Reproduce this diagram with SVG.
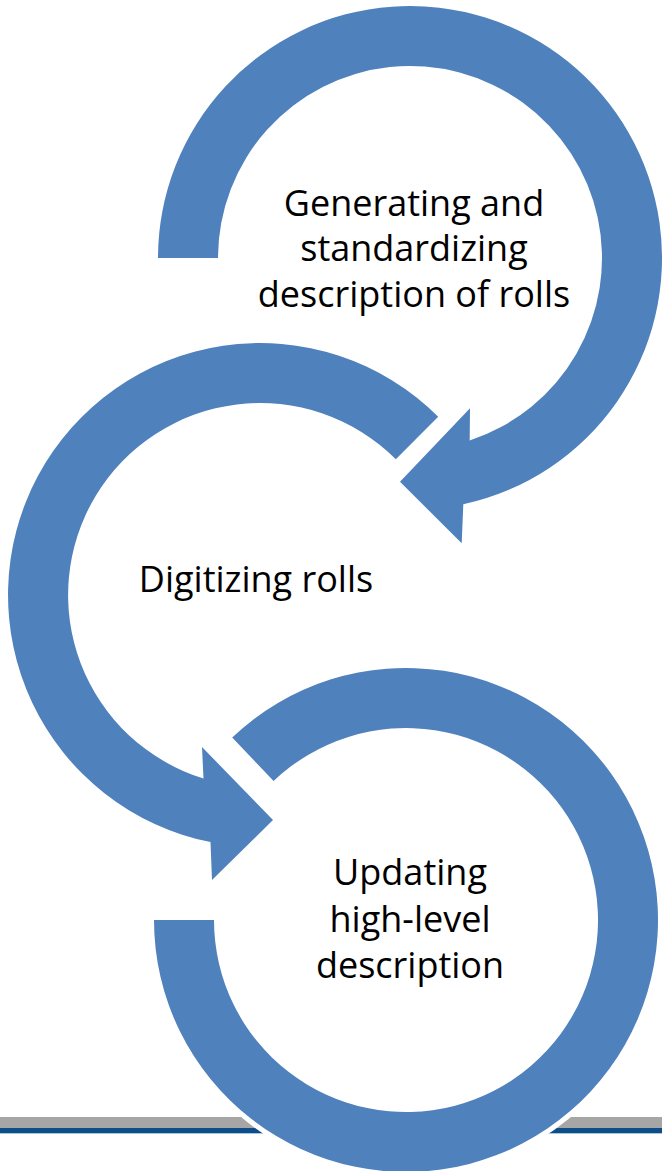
<svg xmlns="http://www.w3.org/2000/svg" width="662" height="1171" viewBox="0 0 662 1171">
  <style>
    .arrow { fill: #4F81BD; stroke: #FFFFFF; stroke-width: 10; paint-order: stroke; stroke-linejoin: miter; }
    .label { font-family: "Open Sans", "Noto Sans", sans-serif; font-size: 36px; fill: #000000; text-anchor: middle; }
  </style>
  <rect x="0" y="0" width="662" height="1171" fill="#FFFFFF"/>
  <g id="footer-lines">
    <rect x="0" y="1117" width="662" height="11" fill="#A6A6A6"/>
    <rect x="0" y="1128" width="662" height="5" fill="#0F4D88"/>
    <rect x="0" y="1133" width="662" height="1" fill="#A9C6E0"/>
  </g>
  <g id="connectors"></g>
  <g id="node1">
    <path class="arrow" d="M158 258 A252 252 0 1 1 463.3 504.3 L461.7 543.3 L400 481.7 L470 408.3 L469.7 440.5 A192 192 0 1 0 218 258 Z"/>
    <text class="label" x="414" y="216">Generating and</text>
    <text class="label" x="414" y="261">standardizing</text>
    <text class="label" x="414" y="307">description of rolls</text>
  </g>
  <g id="node2">
    <path class="arrow" d="M438.2 416.8 A252 252 0 1 0 210.5 842.1 L212 880 L273 820 L202 747 L203.5 778.5 A192 192 0 1 1 395.8 459.2 Z"/>
    <text class="label" x="256" y="592">Digitizing rolls</text>
  </g>
  <g id="node3">
    <path class="arrow" d="M232.2 737.5 A252 252 0 1 1 154 920 L214 920 A192 192 0 1 0 273.6 781 Z"/>
    <text class="label" x="410" y="885">Updating</text>
    <text class="label" x="410" y="932">high-level</text>
    <text class="label" x="410" y="978">description</text>
  </g>
</svg>
